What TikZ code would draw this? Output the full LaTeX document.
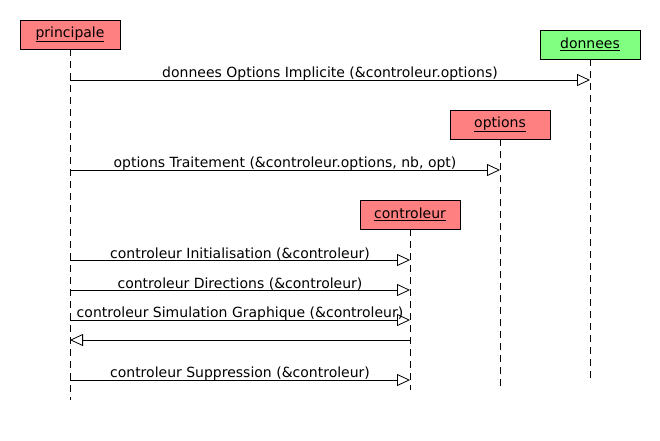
\documentclass[tikz,border=0pt]{standalone}
\usepackage{fontspec}
\setmainfont{DejaVu Sans}
\usetikzlibrary{arrows.meta}
\definecolor{objred}{HTML}{FF8080}
\definecolor{objgreen}{HTML}{80FF80}
\begin{document}
\begin{tikzpicture}[x=1pt,y=-1pt,
  obj/.style={draw=black, line width=0.8pt, minimum width=100pt, minimum height=29pt, inner sep=0pt, font=\fontsize{14}{16}\selectfont},
  life/.style={draw=black, line width=0.6pt, dash pattern=on 7pt off 5pt},
  msg/.style={draw=black, line width=0.6pt, -{Triangle[open, length=13pt, width=12pt, line width=0.8pt]}},
  lbl/.style={font=\fontsize{14}{16}\selectfont, above=-1pt, inner sep=0pt}]
\useasboundingbox (0,0) rectangle (660,440);
% objects
\node[obj, fill=objred] (p) at (70,34.5) {\underline{principale}};
\node[obj, fill=objgreen] (d) at (590,44.5) {\underline{donnees}};
\node[obj, fill=objred] (o) at (500,124.5) {\underline{options}};
\node[obj, fill=objred] (c) at (410,214.5) {\underline{controleur}};
% lifeline ends
\coordinate (pe) at (70,400);
\coordinate (de) at (590,380);
\coordinate (oe) at (500,390);
\coordinate (ce) at (410,390);
\draw[life] (p.south) -- (pe);
\draw[life] (d.south) -- (de);
\draw[life] (o.south) -- (oe);
\draw[life] (c.south) -- (ce);
% message anchors
\foreach \n/\y in {1/80,2/170,3/260,4/290,5/320,6/340,7/380}{
  \coordinate (p\n) at (70,\y);
}
\coordinate (d1) at (590,80);
\coordinate (o2) at (500,170);
\foreach \n/\y in {3/260,4/290,5/320,6/340,7/380}{
  \coordinate (c\n) at (410,\y);
}
\draw[msg] (p1) -- node[lbl] {donnees Options Implicite (\&controleur.options)} (d1);
\draw[msg] (p2) -- node[lbl] {options Traitement (\&controleur.options, nb, opt)} (o2);
\draw[msg] (p3) -- node[lbl] {controleur Initialisation (\&controleur)} (c3);
\draw[msg] (p4) -- node[lbl] {controleur Directions (\&controleur)} (c4);
\draw[msg] (p5) -- node[lbl] {controleur Simulation Graphique (\&controleur)} (c5);
\draw[msg] (c6) -- (p6);
\draw[msg] (p7) -- node[lbl] {controleur Suppression (\&controleur)} (c7);
\end{tikzpicture}
\end{document}
